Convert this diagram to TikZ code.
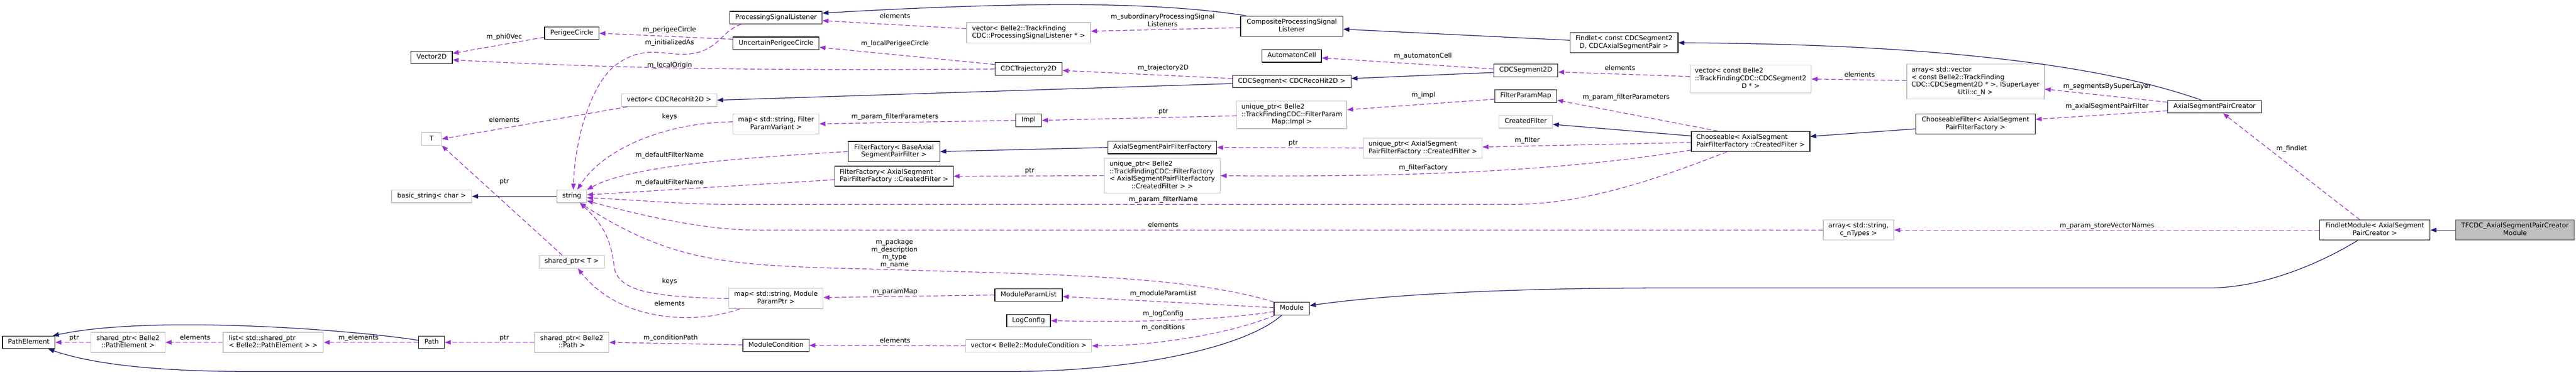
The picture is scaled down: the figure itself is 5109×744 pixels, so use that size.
\documentclass[tikz,border=0pt]{standalone}
\usepackage{fontspec}
\setmainfont{DejaVu Sans}
\usepackage{tikz}
\usetikzlibrary{arrows.meta}
\usepackage{xcolor}
\definecolor{edgeblue}{HTML}{191970}
\definecolor{edgepurple}{HTML}{9A32CD}
\newcommand\dfont{\fontsize{13}{15}\selectfont}
\newcommand\dtab[1]{\begin{tabular}{@{}l@{}}#1\end{tabular}}
\newcommand\dlast[1]{\multicolumn{1}{@{}c@{}}{#1}}

\begin{document}
\begin{tikzpicture}[x=1pt, y=-1pt,
    cls/.style={draw=black, fill=white, line width=1.3pt, inner xsep=2pt, inner ysep=5pt, minimum height=25pt, font=\dfont},
    ext/.style={cls, draw=gray!50},
    cur/.style={cls, fill=gray!50, draw=black!75},
    inh/.style={draw=edgeblue, line width=1.3pt, -{Triangle[length=12pt,width=9pt]}},
    use/.style={draw=edgepurple, line width=1.3pt, dash pattern=on 9pt off 5pt, -{Triangle[length=12pt,width=9pt]}},
    lbl/.style={font=\dfont, inner sep=0pt, text height=9pt, text depth=3pt},
    lblm/.style={font=\dfont, inner sep=0pt, align=center}]
    \useasboundingbox (0,0) rectangle (5109,744);

    \node[cls, minimum width=104pt] (pe) at (57,680) {\dtab{PathElement}};
    \node[ext, minimum width=147pt] (sppe) at (254,680) {\dtab{shared\_ptr< Belle2\\\dlast{::PathElement >}}};
    \node[ext, minimum width=199pt] (listpe) at (542,680) {\dtab{list< std::shared\_ptr\\\dlast{< Belle2::PathElement > >}}};
    \node[cls, minimum width=51pt] (path) at (856,680) {\dtab{Path}};
    \node[ext, minimum width=147pt] (sppath) at (1134,680) {\dtab{shared\_ptr< Belle2\\\dlast{::Path >}}};
    \node[cls, minimum width=131pt] (modcond) at (1539,686) {\dtab{ModuleCondition}};
    \node[ext, minimum width=250pt] (vecmodcond) at (2040,687) {\dtab{vector< Belle2::ModuleCondition >}};
    \node[cls, minimum width=70pt] (module) at (2562,613) {\dtab{Module}};
    \node[cls, minimum width=87pt] (logcfg) at (2040,637) {\dtab{LogConfig}};
    \node[cls, minimum width=134pt] (mplist) at (2040,586) {\dtab{ModuleParamList}};
    \node[ext, minimum width=187pt] (mapmp) at (1539,593) {\dtab{map< std::string, Module\\\dlast{ParamPtr >}}};
    \node[ext, minimum width=130pt] (spt) at (1134,520) {\dtab{shared\_ptr< T >}};
    \node[ext, minimum width=39pt] (tcls) at (856,276) {\dtab{T}};
    \node[ext, minimum width=159pt] (bstr) at (856,390) {\dtab{basic\_string< char >}};
    \node[ext, minimum width=59pt] (str) at (1134,390) {\dtab{string}};
    \node[cls, minimum width=82pt] (vec2d) at (856,114) {\dtab{Vector2D}};
    \node[cls, minimum width=108pt] (pcirc) at (1134,66) {\dtab{PerigeeCircle}};
    \node[cls, minimum width=183pt] (psl) at (1539,35) {\dtab{ProcessingSignalListener}};
    \node[cls, minimum width=171pt] (upc) at (1539,86) {\dtab{UncertainPerigeeCircle}};
    \node[ext, minimum width=189pt] (vechit) at (1327,199) {\dtab{vector< CDCRecoHit2D >}};
    \node[ext, minimum width=171pt] (mapfp) at (1539,246) {\dtab{map< std::string, Filter\\\dlast{ParamVariant >}}};
    \node[cls, minimum width=182pt] (ffbase) at (1773,301) {\dtab{FilterFactory< BaseAxial\\\dlast{SegmentPairFilter >}}};
    \node[cls, minimum width=235pt] (ffcf) at (1773,350) {\dtab{FilterFactory< AxialSegment\\\dlast{PairFilterFactory ::CreatedFilter >}}};
    \node[ext, minimum width=246pt] (vecpsl) at (2040,65) {\dtab{vector< Belle2::TrackFinding\\\dlast{CDC::ProcessingSignalListener * >}}};
    \node[cls, minimum width=133pt] (traj) at (2040,137) {\dtab{CDCTrajectory2D}};
    \node[cls, minimum width=51pt] (impl) at (2040,239) {\dtab{Impl}};
    \node[cls, minimum width=203pt] (cpsl) at (2562,52) {\dtab{CompositeProcessingSignal\\\dlast{Listener}}};
    \node[cls, minimum width=118pt] (acell) at (2562,111) {\dtab{AutomatonCell}};
    \node[cls, minimum width=235pt] (seg) at (2562,162) {\dtab{CDCSegment< CDCRecoHit2D >}};
    \node[ext, minimum width=218pt] (upimpl) at (2562,228) {\dtab{unique\_ptr< Belle2\\::TrackFindingCDC::FilterParam\\\dlast{Map::Impl >}}};
    \node[cls, minimum width=216pt] (asfac) at (2305,293) {\dtab{AxialSegmentPairFilterFactory}};
    \node[ext, minimum width=230pt] (upff) at (2305,349) {\dtab{unique\_ptr< Belle2\\::TrackFindingCDC::FilterFactory\\< AxialSegmentPairFilterFactory\\\dlast{::CreatedFilter > >}}};
    \node[ext, minimum width=235pt] (upcf) at (2822,294) {\dtab{unique\_ptr< AxialSegment\\\dlast{PairFilterFactory ::CreatedFilter >}}};
    \node[cls, minimum width=127pt] (seg2d) at (3026,140) {\dtab{CDCSegment2D}};
    \node[cls, minimum width=123pt] (fpmap) at (3026,191) {\dtab{FilterParamMap}};
    \node[ext, minimum width=106pt] (cfilt) at (3026,242) {\dtab{CreatedFilter}};
    \node[cls, minimum width=214pt] (findlet) at (3221,85) {\dtab{Findlet< const CDCSegment2\\\dlast{D, CDCAxialSegmentPair >}}};
    \node[ext, minimum width=240pt] (vecseg) at (3472,157) {\dtab{vector< const Belle2\\::TrackFindingCDC::CDCSegment2\\\dlast{D * >}}};
    \node[cls, minimum width=235pt] (choose) at (3472,281) {\dtab{Chooseable< AxialSegment\\\dlast{PairFilterFactory ::CreatedFilter >}}};
    \node[ext, minimum width=273pt] (arrvec) at (3918,162) {\dtab{array< std::vector\\< const Belle2::TrackFinding\\CDC::CDCSegment2D * >, ISuperLayer\\\dlast{Util::c\_N >}}};
    \node[cls, minimum width=237pt] (chfilt) at (3918,246) {\dtab{ChooseableFilter< AxialSegment\\\dlast{PairFilterFactory >}}};
    \node[ext, minimum width=140pt] (arrstr) at (3686,457) {\dtab{array< std::string,\\\dlast{c\_nTypes >}}};
    \node[cls, minimum width=186pt] (creator) at (4392,212) {\dtab{AxialSegmentPairCreator}};
    \node[cls, minimum width=219pt] (fmod) at (4710,457) {\dtab{FindletModule< AxialSegment\\\dlast{PairCreator >}}};
    \node[cur, minimum width=235pt] (tfmod) at (4988,457) {\dtab{TFCDC\_AxialSegmentPairCreator\\\dlast{Module}}};

    \draw[inh] ([yshift=4pt]path.west) .. controls (700,655) and (300,625) .. ([xshift=-5pt]pe.north east);
    \draw[inh] ([xshift=-20pt]module.south) .. controls (2470,690) and (2250,738) .. (2000,738) -- (500,738) .. controls (300,738) and (180,722) .. ([xshift=-14pt]pe.south east);
    \draw[inh] (str.west) -- (bstr.east);
    \draw[inh] ([yshift=-4pt]seg.west) -- (vechit.east);
    \draw[inh] ([xshift=12pt]cpsl.north west) .. controls (2300,4) and (2050,2) .. ([yshift=9pt]psl.east);
    \draw[inh] ([yshift=5pt]findlet.west) -- ([yshift=-6pt]cpsl.east);
    \draw[inh] ([yshift=-4pt]seg2d.west) -- ([yshift=6pt]seg.east);
    \draw[inh] ([xshift=-26pt]creator.north) .. controls (4200,140) and (3900,88) .. (findlet.east);
    \draw[inh] ([yshift=11pt]choose.west) -- ([yshift=-5pt]cfilt.east);
    \draw[inh] ([yshift=-10pt]chfilt.west) -- ([yshift=10pt]choose.east);
    \draw[inh] (asfac.west) -- (ffbase.east);
    \draw[inh] ([xshift=-34pt]fmod.south) .. controls (4590,530) and (4480,572) .. (4380,572) -- (3300,572) .. controls (3000,572) and (2750,585) .. ([yshift=6pt]module.east);
    \draw[inh] (tfmod.west) -- (fmod.east);

    \draw[use] (sppe.west) -- (pe.east) node[lbl] at (147,672) {ptr};
    \draw[use] (listpe.west) -- (sppe.east) node[lbl] at (387,672) {elements};
    \draw[use] (path.west) -- (listpe.east) node[lbl] at (711,672) {m\_elements};
    \draw[use] (sppath.west) -- (path.east) node[lbl] at (1000,672) {ptr};
    \draw[use] ([yshift=1pt]modcond.west) -- (sppath.east) node[lbl] at (1330,672) {m\_conditionPath};
    \draw[use] (vecmodcond.west) -- (modcond.east) node[lbl] at (1775,678) {elements};
    \draw[use] ([xshift=2pt]module.south west) .. controls (2450,660) and (2300,687) .. (vecmodcond.east) node[lbl] at (2307,651) {m\_conditions};
    \draw[use] ([yshift=-6pt]module.west) .. controls (2400,638) and (2250,640) .. (logcfg.east) node[lbl] at (2307,624) {m\_logConfig};
    \draw[use] ([yshift=2pt]module.west) -- ([yshift=-3pt]mplist.east) node[lbl] at (2307,584) {m\_moduleParamList};
    \draw[use] (mplist.west) -- ([yshift=2pt]mapmp.east) node[lbl] at (1775,580) {m\_paramMap};
    \draw[use] (module.north west) .. controls (2350,545) and (2050,545) .. (1750,535) .. controls (1450,528) and (1340,525) .. ([xshift=16pt]str.south) node[lblm] at (1774,504) {m\_package\\m\_description\\m\_type\\m\_name};
    \draw[use] (mapmp.west) .. controls (1300,590) and (1225,580) .. (1218,530) .. controls (1212,470) and (1190,440) .. ([xshift=16pt]str.south) node[lbl] at (1328,559) {keys};
    \draw[use] ([xshift=-72pt]mapmp.south) .. controls (1380,645) and (1230,640) .. ([xshift=12pt]spt.south) node[lbl] at (1328,604) {elements};
    \draw[use] ([xshift=-19pt]spt.north) -- (tcls.south east) node[lbl] at (1000,361) {ptr};
    \draw[use] ([xshift=-83pt]vechit.south) -- (tcls.east) node[lbl] at (1000,240) {elements};
    \draw[use] ([xshift=-69pt]psl.south) .. controls (1430,62) and (1425,100) .. (1370,107) .. controls (1320,113) and (1280,85) .. (1220,130) .. controls (1170,170) and (1140,280) .. ([xshift=3pt]str.north) node[lbl] at (1328,85) {m\_initializedAs};
    \draw[use] ([yshift=8pt]upc.west) -- (pcirc.east) node[lbl] at (1328,60) {m\_perigeeCircle};
    \draw[use] ([yshift=-8pt]pcirc.west) -- ([yshift=8pt]vec2d.east) node[lbl] at (1000,74) {m\_phi0Vec};
    \draw[use] (traj.west) .. controls (1500,141) and (1200,135) .. ([yshift=-5pt]vec2d.east) node[lbl] at (1328,130) {m\_localOrigin};
    \draw[use] ([yshift=9pt]traj.west) -- ([yshift=-8pt]upc.east) node[lbl] at (1775,87) {m\_localPerigeeCircle};
    \draw[use] ([yshift=8pt]vecpsl.west) -- ([yshift=-6pt]psl.east) node[lbl] at (1775,33) {elements};
    \draw[use] ([yshift=-3pt]cpsl.west) -- ([yshift=3pt]vecpsl.east) node[lblm] at (2306,40) {m\_subordinaryProcessingSignal\\Listeners};
    \draw[use] ([yshift=6pt]seg.west) -- ([yshift=-3pt]traj.east) node[lbl] at (2307,135) {m\_trajectory2D};
    \draw[use] ([yshift=3pt]seg2d.west) -- ([yshift=-4pt]acell.east) node[lbl] at (2822,112) {m\_automatonCell};
    \draw[use] ([yshift=5pt]vecseg.west) -- ([yshift=-3pt]seg2d.east) node[lbl] at (3213,136) {elements};
    \draw[use] ([yshift=2pt]arrvec.west) -- (vecseg.east) node[lbl] at (3688,150) {elements};
    \draw[use] ([yshift=9pt]creator.west) -- ([yshift=-15pt]arrvec.east) node[lbl] at (4179,172) {m\_segmentsBySuperLayer};
    \draw[use] ([yshift=-8pt]creator.west) -- ([yshift=9pt]chfilt.east) node[lbl] at (4179,212) {m\_axialSegmentPairFilter};
    \draw[use] ([xshift=-30pt]fmod.north) -- ([xshift=17pt]creator.south) node[lbl] at (4545,296) {m\_findlet};
    \draw[use] (fmod.west) -- (arrstr.east) node[lbl] at (4179,449) {m\_param\_storeVectorNames};
    \draw[use] (arrstr.west) -- (1500,457) .. controls (1400,457) and (1280,430) .. ([yshift=-9pt]str.east) node[lbl] at (2307,448) {elements};
    \draw[use] ([xshift=-47pt]choose.south) .. controls (3300,350) and (3150,406) .. (3000,406) -- (1450,406) .. controls (1350,406) and (1250,396) .. ([yshift=-3pt]str.east) node[lbl] at (2307,397) {m\_param\_filterName};
    \draw[use] ([yshift=-2pt]choose.west) -- ([yshift=2pt]upcf.east) node[lbl] at (3029,280) {m\_filter};
    \draw[use] ([yshift=-17pt]choose.west) .. controls (3100,340) and (2800,352) .. (upff.east) node[lbl] at (2823,334) {m\_filterFactory};
    \draw[use] ([xshift=-65pt]choose.north) -- ([yshift=-8pt]fpmap.east) node[lbl] at (3225,194) {m\_param\_filterParameters};
    \draw[use] (upcf.west) -- (asfac.east) node[lbl] at (2565,285) {ptr};
    \draw[use] (upff.west) -- (ffcf.east) node[lbl] at (2042,340) {ptr};
    \draw[use] ([yshift=-7pt]ffcf.west) -- ([yshift=3pt]str.east) node[lbl] at (1328,363) {m\_defaultFilterName};
    \draw[use] (ffbase.west) .. controls (1450,315) and (1250,330) .. (str.north east) node[lbl] at (1328,309) {m\_defaultFilterName};
    \draw[use] ([yshift=4pt]mapfp.west) .. controls (1330,243) and (1200,290) .. ([xshift=11pt]str.north) node[lbl] at (1328,233) {keys};
    \draw[use] (impl.west) -- (mapfp.east) node[lbl] at (1775,233) {m\_param\_filterParameters};
    \draw[use] ([yshift=-2pt]upimpl.west) -- (impl.east) node[lbl] at (2307,222) {ptr};
    \draw[use] ([yshift=-6pt]fpmap.west) -- ([yshift=10pt]upimpl.east) node[lbl] at (2823,190) {m\_impl};
\end{tikzpicture}
\end{document}
